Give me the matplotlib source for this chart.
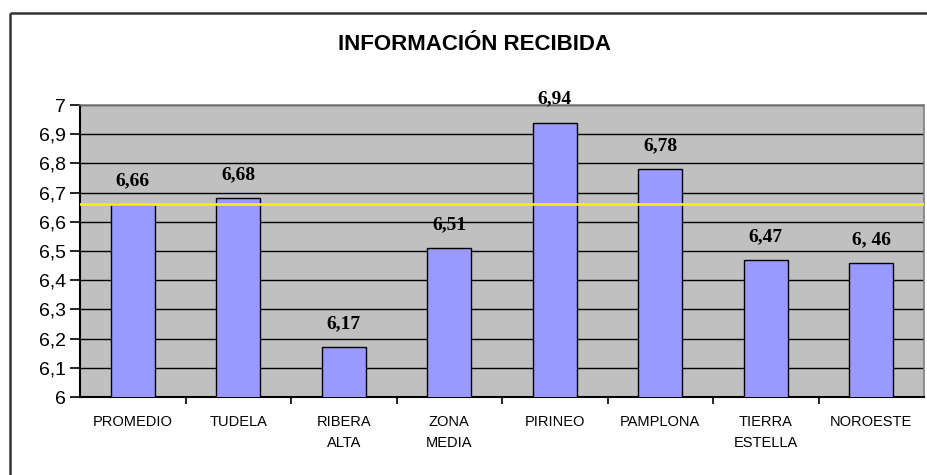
import numpy as np
import matplotlib.pyplot as plt
from matplotlib.lines import Line2D

categorias = ["PROMEDIO", "TUDELA", "RIBERA\nALTA", "ZONA\nMEDIA", "PIRINEO",
              "PAMPLONA", "TIERRA\nESTELLA", "NOROESTE"]
valores = [6.66, 6.68, 6.17, 6.51, 6.94, 6.78, 6.47, 6.46]
etiquetas = ["6,66", "6,68", "6,17", "6,51", "6,94", "6,78", "6,47", "6, 46"]
promedio = 6.66
yticks = [6.0, 6.1, 6.2, 6.3, 6.4, 6.5, 6.6, 6.7, 6.8, 6.9, 7.0]
ytick_labels = ["6", "6,1", "6,2", "6,3", "6,4", "6,5", "6,6", "6,7", "6,8", "6,9", "7"]

fig = plt.figure(figsize=(9.27, 4.75), dpi=100)
fig.patch.set_facecolor("white")

# marco exterior del grafico (solo se ve arriba e izquierda)
x0, y0 = 10 / 927, 1 - 13 / 475
fig.add_artist(Line2D([x0, x0], [0.0, y0], transform=fig.transFigure,
                      color="#333333", linewidth=1.8, solid_capstyle="butt"))
fig.add_artist(Line2D([x0, 1.0], [y0, y0], transform=fig.transFigure,
                      color="#333333", linewidth=1.8, solid_capstyle="butt"))

ax = fig.add_axes([80 / 927, 1 - 397 / 475, 844 / 927, 292 / 475])
ax.set_facecolor("#C0C0C0")

x = np.arange(len(categorias))
ax.set_axisbelow(True)
ax.yaxis.grid(True, color="black", linewidth=1.0)
ax.bar(x, valores, width=0.42, color="#9999FF", edgecolor="black",
       linewidth=1.0, zorder=3)
ax.axhline(promedio, color="#F2F200", linewidth=2.0, zorder=4)

for xi, v, t in zip(x, valores, etiquetas):
    ax.text(xi, v + 0.08, t, ha="center", va="center",
            fontsize=14, fontweight="bold", family="Liberation Serif", zorder=5)

ax.set_xlim(-0.5, len(categorias) - 0.5)
ax.set_ylim(6, 7)
ax.set_yticks(yticks)
ax.set_yticklabels(ytick_labels, fontsize=14, family="Liberation Sans")
ax.set_xticks(x)
ax.set_xticklabels(categorias, fontsize=10.5, family="Liberation Sans",
                   linespacing=1.6, va="top")
ax.set_xticks(np.arange(0.5, len(categorias) - 0.5, 1), minor=True)
ax.tick_params(axis="x", which="major", length=0, pad=13)
ax.tick_params(axis="x", which="minor", length=5, width=1.2, direction="out")
ax.tick_params(axis="y", length=7, width=1.2, direction="out", pad=3)

for s in ["top", "right"]:
    ax.spines[s].set_color("#808080")
    ax.spines[s].set_linewidth(1.2)
for s in ["left", "bottom"]:
    ax.spines[s].set_color("black")
    ax.spines[s].set_linewidth(1.5)

fig.text(474 / 927, 1 - 44 / 475, "INFORMACIÓN RECIBIDA", ha="center",
         va="center", fontsize=16, fontweight="bold", family="Liberation Sans")

fig.savefig("out.png", dpi=100)
